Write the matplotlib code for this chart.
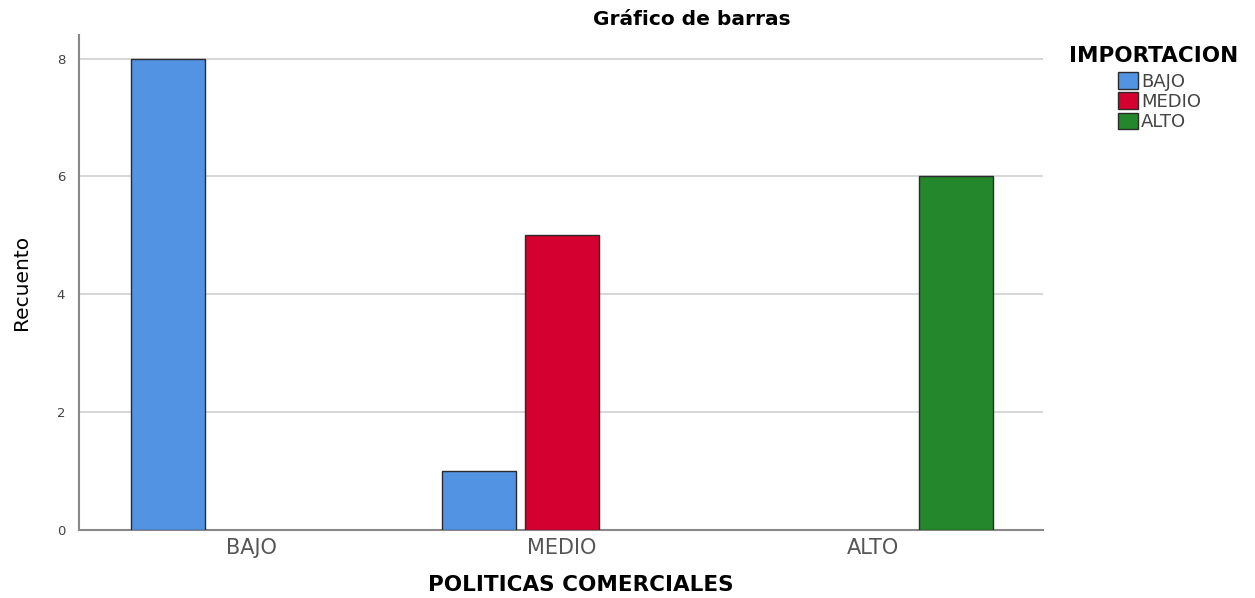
import numpy as np
import matplotlib
matplotlib.use("Agg")
import matplotlib.pyplot as plt
from matplotlib.patches import Patch

# la fuente del original parece estirada a lo ancho, DejaVu se acerca mas
plt.rcParams['font.family'] = ['DejaVu Sans']

# datos
categorias = ['BAJO', 'MEDIO', 'ALTO']          # POLITICAS COMERCIALES
series = ['BAJO', 'MEDIO', 'ALTO']              # IMPORTACION
bajo = [8, 1, 0]
medio = [0, 5, 0]
alto = [0, 0, 6]
colores = ['#5393E4', '#D4002F', '#25872C']

fig = plt.figure(figsize=(12.55, 5.98), dpi=100)
ax = fig.add_axes([0.063, 0.1137, 0.768, 0.8278])

x = np.arange(len(categorias))
offset = 0.267
ancho = 0.24
for i, (vals, col) in enumerate(zip([bajo, medio, alto], colores)):
    vals = np.array(vals)
    m = vals > 0  # SPSS no dibuja barras vacias
    ax.bar(x[m] + (i - 1) * offset, vals[m], width=ancho, color=col,
           edgecolor='#2b2b2b', linewidth=1.0, zorder=3)

ax.set_xlim(-0.553, 2.547)
ax.set_ylim(0, 8.4)
ax.set_yticks([0, 2, 4, 6, 8])
ax.set_xticks(x)
ax.set_xticklabels(categorias, fontsize=15, color='#555555')
ax.tick_params(axis='y', labelsize=9.5, colors='#444444', length=0, pad=10)
ax.tick_params(axis='x', length=0, pad=6)
ax.yaxis.grid(True, color='#cfcfcf', linewidth=1.2, zorder=0)
ax.set_axisbelow(True)
for s in ['top', 'right']:
    ax.spines[s].set_visible(False)
ax.spines['left'].set_color('#888888')
ax.spines['bottom'].set_color('#888888')
ax.spines['left'].set_linewidth(1.5)
ax.spines['bottom'].set_linewidth(1.5)

fig.text(0.551, 0.968, 'Gráfico de barras', ha='center', va='center',
         fontsize=14.5, fontweight='bold')
fig.text(0.0175, 0.527, 'Recuento', rotation=90, ha='center', va='center',
         fontsize=14.5)
fig.text(0.463, 0.022, 'POLITICAS COMERCIALES', ha='center', va='center',
         fontsize=15.5, fontweight='bold')

handles = [Patch(facecolor=c, edgecolor='#2b2b2b', label=s)
           for s, c in zip(series, colores)]
fig.text(0.9195, 0.907, 'IMPORTACION', ha='center', va='center',
         fontsize=15.5, fontweight='bold')
fig.legend(handles=handles, loc='upper left', bbox_to_anchor=(0.884, 0.894),
           frameon=False, fontsize=13, handlelength=1.1, handleheight=1.0,
           handletextpad=0.15, labelspacing=0.1, borderpad=0,
           labelcolor='#444444')

fig.savefig('out.png', dpi=100)
